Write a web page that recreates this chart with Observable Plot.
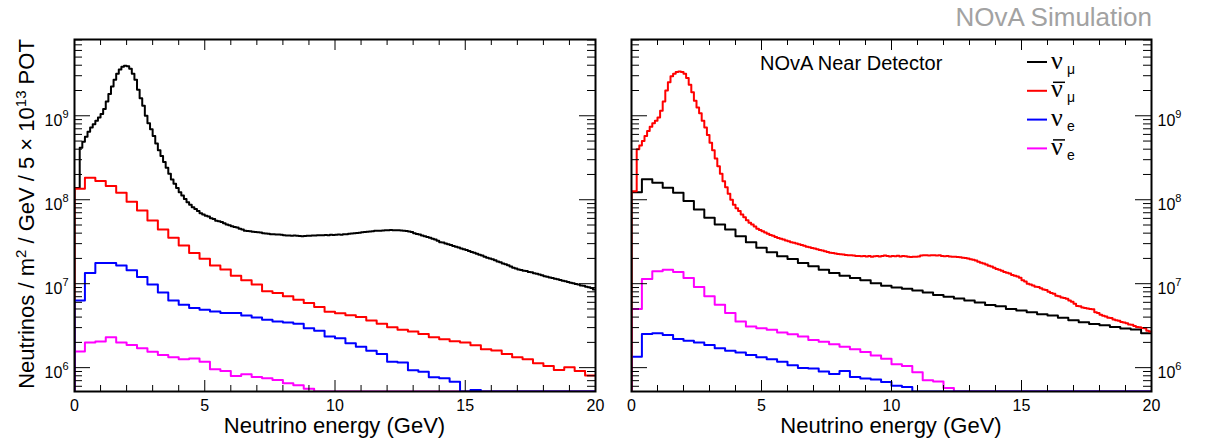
<!DOCTYPE html>
<html><head><meta charset="utf-8">
<script src="https://cdn.jsdelivr.net/npm/d3@7"></script>
<script src="https://cdn.jsdelivr.net/npm/@observablehq/plot@0.6"></script>
<style>
html,body{margin:0;padding:0;background:#fff;}
#chart{position:relative;width:1206px;height:439px;overflow:hidden;background:#fff;}
#chart svg{position:absolute;top:0;}
</style></head><body><div id="chart"></div>
<script>
// ---------------- data (log10 of flux per bin; null = below plotted range) ----------------
const energyDomain = [0, 20];
const fineBinWidth = 0.1;   // GeV
const coarseBinWidth = 0.4; // GeV
const xTickLabels = [0, 5, 10, 15, 20];
const yTickDecades = [1e6, 1e7, 1e8, 1e9];
const yDomain = [5.2e5, 8.1e9];

// Left panel (neutrino mode)
const numuFHC_log10 = [
 8.14,8.14,8.62,8.69,8.75,8.81,8.86,8.90,8.94,8.98,
 9.02,9.08,9.17,9.26,9.35,9.43,9.50,9.55,9.585,9.595,
 9.59,9.56,9.50,9.43,9.31,9.21,9.12,9.00,8.91,8.84,
 8.76,8.67,8.59,8.52,8.45,8.38,8.31,8.24,8.19,8.14,
 8.09,8.05,8.01,7.97,7.94,7.91,7.89,7.865,7.84,7.825,
 7.81,7.80,7.78,7.77,7.75,7.745,7.735,7.72,7.705,7.695,
 7.685,7.675,7.668,7.655,7.645,7.632,7.628,7.625,7.62,7.615,
 7.612,7.61,7.60,7.598,7.596,7.59,7.588,7.585,7.586,7.583,
 7.578,7.575,7.574,7.572,7.575,7.57,7.567,7.566,7.568,7.572,
 7.572,7.574,7.573,7.576,7.578,7.577,7.58,7.578,7.582,7.58,
 7.583,7.585,7.583,7.588,7.59,7.594,7.598,7.602,7.605,7.608,
 7.612,7.615,7.62,7.622,7.626,7.63,7.632,7.631,7.635,7.636,
 7.638,7.64,7.638,7.636,7.638,7.635,7.632,7.628,7.622,7.615,
 7.600,7.592,7.585,7.574,7.566,7.555,7.547,7.535,7.526,7.512,
 7.495,7.49,7.478,7.47,7.46,7.448,7.44,7.43,7.418,7.41,
 7.40,7.39,7.378,7.368,7.358,7.345,7.335,7.322,7.31,7.30,
 7.29,7.278,7.265,7.255,7.24,7.232,7.22,7.205,7.19,7.18,
 7.17,7.163,7.155,7.15,7.14,7.135,7.125,7.118,7.11,7.10,
 7.09,7.083,7.075,7.068,7.06,7.052,7.045,7.035,7.028,7.02,
 7.01,7.005,6.995,6.99,6.98,6.975,6.965,6.958,6.95,6.93
];
const numubarFHC_log10 = [
 8.132,8.263,8.223,8.163,8.084,7.976,7.873,7.753,7.646,7.546,
 7.455,7.367,7.296,7.216,7.168,7.096,7.041,6.989,6.909,6.889,
 6.85,6.81,6.77,6.722,6.666,6.649,6.625,6.602,6.562,6.522,
 6.482,6.45,6.43,6.40,6.363,6.339,6.315,6.299,6.267,6.219,
 6.203,6.163,6.124,6.1,6.052,6.02,5.972,6.004,5.96,5.908
];
const nueFHC_log10 = [
 6.801,7.127,7.247,7.247,7.216,7.16,7.08,6.99,6.896,6.80,
 6.75,6.71,6.69,6.67,6.65,6.65,6.62,6.598,6.57,6.55,
 6.538,6.522,6.47,6.44,6.37,6.35,6.29,6.25,6.2,6.163,
 6.07,6.06,5.97,5.95,5.885,5.873,5.833,null,5.733,null,
 null,null,null,null,null,null,null,null,null,null
];
const nuebarFHC_log10 = [
 6.191,6.30,6.311,6.363,6.30,6.27,6.23,6.19,6.15,6.124,
 6.10,6.11,6.07,5.98,5.96,5.90,5.92,5.89,5.873,5.853,
 5.813,5.79,5.75,null,null,null,null,null,null,null,
 null,null,null,null,null,null,null,null,null,null,
 null,null,null,null,null,null,null,null,null,null
];

// Right panel (antineutrino mode)
const numubarRHC_log10 = [
 8.10,8.10,8.60,8.645,8.70,8.76,8.82,8.87,8.91,8.94,
 8.98,9.06,9.17,9.30,9.40,9.47,9.50,9.52,9.526,9.522,
 9.50,9.45,9.37,9.28,9.18,9.10,9.03,8.94,8.86,8.77,
 8.68,8.59,8.49,8.40,8.31,8.22,8.15,8.07,8.00,7.94,
 7.90,7.865,7.825,7.79,7.755,7.725,7.705,7.68,7.655,7.64,
 7.625,7.61,7.595,7.58,7.57,7.555,7.545,7.535,7.525,7.515,
 7.505,7.495,7.487,7.478,7.47,7.462,7.452,7.44,7.435,7.425,
 7.418,7.41,7.40,7.395,7.385,7.378,7.37,7.365,7.36,7.355,
 7.35,7.348,7.343,7.34,7.338,7.335,7.33,7.33,7.327,7.33,
 7.325,7.33,7.322,7.327,7.33,7.325,7.33,7.335,7.33,7.325,
 7.33,7.327,7.332,7.325,7.33,7.328,7.32,7.318,7.322,7.32,
 7.325,7.335,7.338,7.34,7.336,7.34,7.338,7.335,7.338,7.33,
 7.327,7.33,7.325,7.322,7.32,7.318,7.315,7.31,7.307,7.30,
 7.29,7.285,7.275,7.26,7.25,7.24,7.23,7.215,7.205,7.19,
 7.175,7.165,7.155,7.14,7.13,7.12,7.105,7.095,7.085,7.07,
 7.04,7.025,7.0,6.99,6.98,6.965,6.96,6.945,6.93,6.925,
 6.905,6.89,6.88,6.855,6.85,6.835,6.83,6.82,6.8,6.785,
 6.76,6.735,6.73,6.715,6.712,6.705,6.70,6.695,6.66,6.652,
 6.63,6.618,6.61,6.595,6.59,6.575,6.565,6.56,6.545,6.538,
 6.53,6.515,6.51,6.495,6.485,6.48,6.472,6.468,6.44,6.43
];
const numuRHC_log10 = [
 8.09,8.243,8.203,8.143,8.084,7.984,7.884,7.785,7.705,7.645,
 7.566,7.494,7.427,7.375,7.327,7.295,7.247,7.207,7.167,7.128,
 7.096,7.068,7.04,7.005,6.975,6.955,6.94,6.92,6.895,6.865,
 6.845,6.825,6.80,6.775,6.745,6.73,6.70,6.68,6.66,6.635,
 6.62,6.595,6.565,6.54,6.52,6.505,6.485,6.465,6.455,6.41
];
const nuebarRHC_log10 = [
 6.70,7.056,7.147,7.167,7.14,7.068,6.96,6.85,6.75,6.65,
 6.55,6.49,6.47,6.45,6.418,6.398,6.37,6.33,6.31,6.28,
 6.25,6.22,6.185,6.145,6.105,6.04,6.02,5.945,5.85,5.835,
 5.758,null,null,null,null,null,null,null,null,null,
 null,null,null,null,null,null,null,null,null,null
];
const nueRHC_log10 = [
 6.13,6.40,6.41,6.39,6.34,6.32,6.30,6.27,6.23,6.20,
 6.18,6.15,6.125,6.10,6.07,6.03,5.995,5.99,5.955,5.925,
 5.96,5.89,5.87,5.86,5.83,5.785,5.77,null,null,null,
 null,null,null,null,null,null,null,null,null,null,
 null,null,null,null,null,null,null,null,null,null
];

const flavourColors = {numu: "#000000", numubar: "#ff0000", nue: "#0000ff", nuebar: "#ff00ff"};
const legendEntries = [
  {key: "numu", sub: "μ", bar: false},
  {key: "numubar", sub: "μ", bar: true},
  {key: "nue", sub: "e", bar: false},
  {key: "nuebar", sub: "e", bar: true}
];
const xTitle = "Neutrino energy (GeV)";
const mainTitle = "NOvA Simulation";
const detectorLabel = "NOvA Near Detector";

// ---------------- helpers ----------------
function histPoints(log10Values, binWidth) {
  const floor = yDomain[0];
  const pts = [{x: energyDomain[0], y: floor}];
  log10Values.forEach((v, i) => pts.push({x: i * binWidth, y: v == null ? floor : 10 ** v}));
  const last = log10Values[log10Values.length - 1];
  pts.push({x: log10Values.length * binWidth, y: last == null ? floor : 10 ** last});
  return pts;
}

const SVGNS = "http://www.w3.org/2000/svg";
function panel({series, width, marginLeft, marginRight, axisAnchor}) {
  const H = 439, mt = 39, mb = 48;
  const frameH = H - mt - mb, frameW = width - marginLeft - marginRight;
  const minorX = d3.range(energyDomain[0], energyDomain[1] + 1, 1).filter(d => d % 5 !== 0);
  const minorY = [];
  for (let e = 5; e <= 9; e++) for (let m = 2; m <= 9; m++) {
    const v = m * 10 ** e;
    if (v > yDomain[0] && v < yDomain[1]) minorY.push(v);
  }
  const marks = series.map(s => Plot.line(histPoints(s.values, s.bin), {
    x: "x", y: "y", curve: "step-after", stroke: flavourColors[s.key], strokeWidth: 2, clip: true
  }));
  marks.push(
    Plot.tickX(xTickLabels, {x: d => d, insetTop: frameH - 11, stroke: "black"}),
    Plot.tickX(xTickLabels, {x: d => d, insetBottom: frameH - 11, stroke: "black"}),
    Plot.tickX(minorX, {x: d => d, insetTop: frameH - 6, stroke: "black"}),
    Plot.tickX(minorX, {x: d => d, insetBottom: frameH - 6, stroke: "black"}),
    Plot.tickY(yTickDecades, {y: d => d, insetRight: frameW - 16, stroke: "black"}),
    Plot.tickY(yTickDecades, {y: d => d, insetLeft: frameW - 16, stroke: "black"}),
    Plot.tickY(minorY, {y: d => d, insetRight: frameW - 8, stroke: "black"}),
    Plot.tickY(minorY, {y: d => d, insetLeft: frameW - 8, stroke: "black"}),
    Plot.frame({stroke: "black", strokeWidth: 2}),
    Plot.axisX({ticks: xTickLabels, tickSize: 0, tickPadding: 8, tickFormat: d => String(d), label: null, fontSize: 16}),
    Plot.axisY({anchor: axisAnchor, ticks: yTickDecades, tickSize: 0, tickPadding: 6,
      tickFormat: d => "10^" + Math.round(Math.log10(d)), label: null, fontSize: 16, dy: 5})
  );
  const svg = Plot.plot({
    width, height: H, marginTop: mt, marginBottom: mb, marginLeft, marginRight,
    x: {domain: energyDomain},
    y: {type: "log", domain: yDomain},
    style: {fontFamily: "'Liberation Sans', Arial, sans-serif", fontSize: "16px", background: "transparent", color: "black", overflow: "visible"},
    marks
  });
  svg.querySelectorAll('g[aria-label="y-axis tick label"] text').forEach(t => {
    const [base, exp] = t.textContent.split("^");
    if (exp === undefined) return;
    t.textContent = base;
    const ts = document.createElementNS(SVGNS, "tspan");
    ts.setAttribute("dy", "-7.5");
    ts.setAttribute("font-size", "11");
    ts.textContent = exp;
    t.appendChild(ts);
  });
  return svg;
}

const chart = document.getElementById("chart");
const left = panel({
  series: [
    {key: "numu", values: numuFHC_log10, bin: fineBinWidth},
    {key: "nuebar", values: nuebarFHC_log10, bin: coarseBinWidth},
    {key: "numubar", values: numubarFHC_log10, bin: coarseBinWidth},
    {key: "nue", values: nueFHC_log10, bin: coarseBinWidth}
  ],
  width: 612, marginLeft: 74, marginRight: 17, axisAnchor: "left"
});
left.style.left = "0px";
chart.appendChild(left);

const right = panel({
  series: [
    {key: "numu", values: numuRHC_log10, bin: coarseBinWidth},
    {key: "nuebar", values: nuebarRHC_log10, bin: coarseBinWidth},
    {key: "nue", values: nueRHC_log10, bin: coarseBinWidth},
    {key: "numubar", values: numubarRHC_log10, bin: fineBinWidth}
  ],
  width: 594, marginLeft: 19, marginRight: 55, axisAnchor: "right"
});
right.style.left = "612px";
chart.appendChild(right);

// ---------------- text overlay: titles and legend ----------------
const ov = d3.create("svg").attr("width", 1206).attr("height", 439)
  .style("left", "0px").style("pointer-events", "none")
  .attr("font-family", "'Liberation Sans', Arial, sans-serif");

ov.append("text").attr("x", 1152).attr("y", 26).attr("text-anchor", "end")
  .attr("font-size", 26).attr("fill", "#a2a2a2").text(mainTitle);

[334.5, 891].forEach(cx => ov.append("text").attr("x", cx).attr("y", 433)
  .attr("text-anchor", "middle").attr("font-size", 22).text(xTitle));

const yt = ov.append("text").attr("transform", "translate(33.5,214) rotate(-90)")
  .attr("text-anchor", "middle").attr("font-size", 22);
yt.append("tspan").text("Neutrinos / m");
yt.append("tspan").attr("dy", -8).attr("font-size", 15).text("2");
yt.append("tspan").attr("dy", 8).text(" / GeV / 5 × 10");
yt.append("tspan").attr("dy", -8).attr("font-size", 15).text("13");
yt.append("tspan").attr("dy", 8).text(" POT");

ov.append("text").attr("x", 760).attr("y", 70).attr("font-size", 20).text(detectorLabel);

legendEntries.forEach((e, i) => {
  const ly = 62 + 28.8 * i;
  ov.append("line").attr("x1", 1027).attr("x2", 1047).attr("y1", ly).attr("y2", ly)
    .attr("stroke", flavourColors[e.key]).attr("stroke-width", 2);
  ov.append("text").attr("x", 1051).attr("y", ly + 6.5)
    .attr("font-family", "'Liberation Serif', 'DejaVu Serif', serif").attr("font-size", 26).text("ν");
  ov.append("text").attr("x", 1067).attr("y", ly + 11.5).attr("font-size", 14).text(e.sub);
  if (e.bar) ov.append("line").attr("x1", 1053).attr("x2", 1065)
    .attr("y1", ly - 8.5).attr("y2", ly - 8.5).attr("stroke", "black").attr("stroke-width", 1.5);
});
chart.appendChild(ov.node());
</script></body></html>
